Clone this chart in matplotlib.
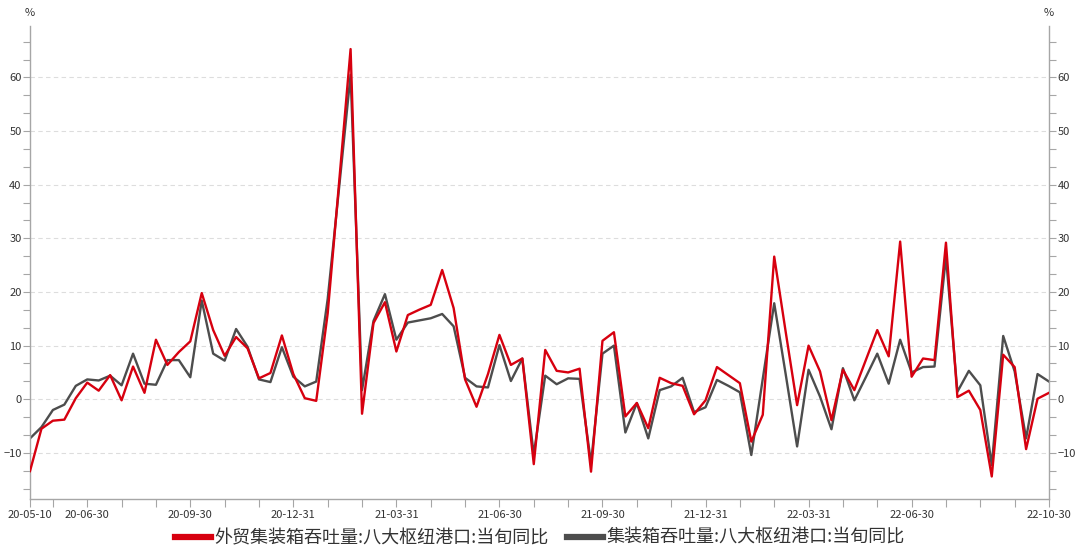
import matplotlib
matplotlib.use("Agg")
import matplotlib.pyplot as plt
import numpy as np
from matplotlib.ticker import MultipleLocator, FixedLocator

plt.rcParams["font.family"] = ["Noto Sans CJK SC", "DejaVu Sans"]

# -- Data: dekad (旬) observations, 2020-05-10 .. 2022-10-30 --------------
foreign_trade = [
    -13.4, -5.5, -4.0, -3.8, 0.2, 3.1, 1.6, 4.5, -0.2, 6.1,
    1.2, 11.1, 6.4, 8.8, 10.8, 19.8, 12.9, 8.1, 11.6, 9.5,
    3.9, 4.9, 11.9, 4.7, 0.2, -0.3, 16.0, 40.5, 65.3, -2.7,
    14.2, 18.1, 8.9, 15.7, 16.7, 17.6, 24.1, 17.0, 3.7, -1.4,
    4.7, 12.0, 6.4, 7.6, -12.1, 9.2, 5.3, 5.0, 5.7, -13.5,
    10.9, 12.5, -3.2, -0.7, -5.4, 4.0, 3.0, 2.5, -2.8, -0.2,
    6.0, 4.5, 3.0, -7.9, -2.9, 26.6, 12.6, -1.1, 10.0, 5.2,
    -3.9, 5.5, 1.7, 7.3, 12.9, 8.0, 29.4, 4.2, 7.6, 7.3,
    29.2, 0.4, 1.6, -2.0, -14.4, 8.3, 6.0, -9.3, 0.1, 1.2,
]
container_total = [
    -7.3, -5.2, -2.0, -1.0, 2.5, 3.7, 3.5, 4.4, 2.6, 8.5,
    2.9, 2.7, 7.3, 7.3, 4.1, 18.4, 8.5, 7.2, 13.1, 9.8,
    3.7, 3.2, 9.7, 4.2, 2.4, 3.3, 18.7, 39.5, 60.5, 1.7,
    14.6, 19.6, 11.1, 14.3, 14.7, 15.1, 15.9, 13.6, 4.0, 2.4,
    2.2, 10.1, 3.4, 7.6, -10.3, 4.4, 2.8, 3.9, 3.8, -11.9,
    8.5, 10.0, -6.2, -0.7, -7.3, 1.7, 2.4, 4.0, -2.4, -1.5,
    3.6, 2.5, 1.3, -10.4, 3.8, 17.9, 4.7, -8.8, 5.5, 0.5,
    -5.6, 5.8, -0.2, 4.1, 8.5, 2.9, 11.1, 5.0, 6.0, 6.1,
    26.6, 1.4, 5.3, 2.6, -12.3, 11.8, 5.2, -7.3, 4.7, 3.3,
]
label_idx = [0, 5, 14, 23, 32, 41, 50, 59, 68, 77, 89]
label_txt = ["20-05-10", "20-06-30", "20-09-30", "20-12-31", "21-03-31",
             "21-06-30", "21-09-30", "21-12-31", "22-03-31", "22-06-30",
             "22-10-30"]
series_names = ["外贸集装箱吞吐量:八大枢纽港口:当旬同比",
                "集装箱吞吐量:八大枢纽港口:当旬同比"]

RED = "#d7000f"
GREY = "#4d4d4d"
AXIS = "#a6a6a6"
TXT = "#333333"

x = np.arange(len(foreign_trade))

fig = plt.figure(figsize=(10.8, 5.5), dpi=100)
ax = fig.add_axes([30 / 1080, 1 - 499 / 550, (1049 - 30) / 1080, (499 - 26) / 550])

ax.plot(x, foreign_trade, color=RED, lw=1.7, label=series_names[0], zorder=3)
ax.plot(x, container_total, color=GREY, lw=1.7, label=series_names[1], zorder=2)

ax.set_xlim(0, len(x) - 1)
ax.set_ylim(-18.6, 69.6)

# y axis: left and right copies
ax.yaxis.set_major_locator(FixedLocator([-10, 0, 10, 20, 30, 40, 50, 60]))
ax.yaxis.set_minor_locator(MultipleLocator(10 / 3))
ax.grid(axis="y", which="major", color="#dddddd", ls=(0, (4, 3)), lw=0.8)
ax.tick_params(axis="y", which="both", direction="out", length=5, width=0.8,
               color=AXIS, labelsize=8, labelcolor=TXT, pad=1,
               left=True, right=True, labelleft=True, labelright=True)

# x axis: monthly ticks, quarterly labels
minor_pos = [0] + list(range(2, len(x), 3))
ax.xaxis.set_minor_locator(FixedLocator(minor_pos))
ax.set_xticks(label_idx)
ax.set_xticklabels(label_txt)
ax.tick_params(axis="x", which="both", direction="out", length=6, width=0.8,
               color=AXIS, labelsize=8, labelcolor=TXT, pad=2)

for side in ["left", "right", "bottom"]:
    ax.spines[side].set_color(AXIS)
    ax.spines[side].set_linewidth(1.0)
ax.spines["top"].set_visible(False)

fig.text(30 / 1080, 1 - 13 / 550, "%", ha="center", va="center", fontsize=8, color=TXT)
fig.text(1049 / 1080, 1 - 13 / 550, "%", ha="center", va="center", fontsize=8, color=TXT)

leg = fig.legend(loc="center", bbox_to_anchor=(0.5, 1 - 538 / 550), ncol=2,
                 frameon=False, fontsize=13, handlelength=2.0, handletextpad=0.2,
                 columnspacing=1.0)
for h in leg.get_lines():
    h.set_linewidth(4.5)
for t in leg.get_texts():
    t.set_color(TXT)

fig.savefig("out.png", dpi=100)
